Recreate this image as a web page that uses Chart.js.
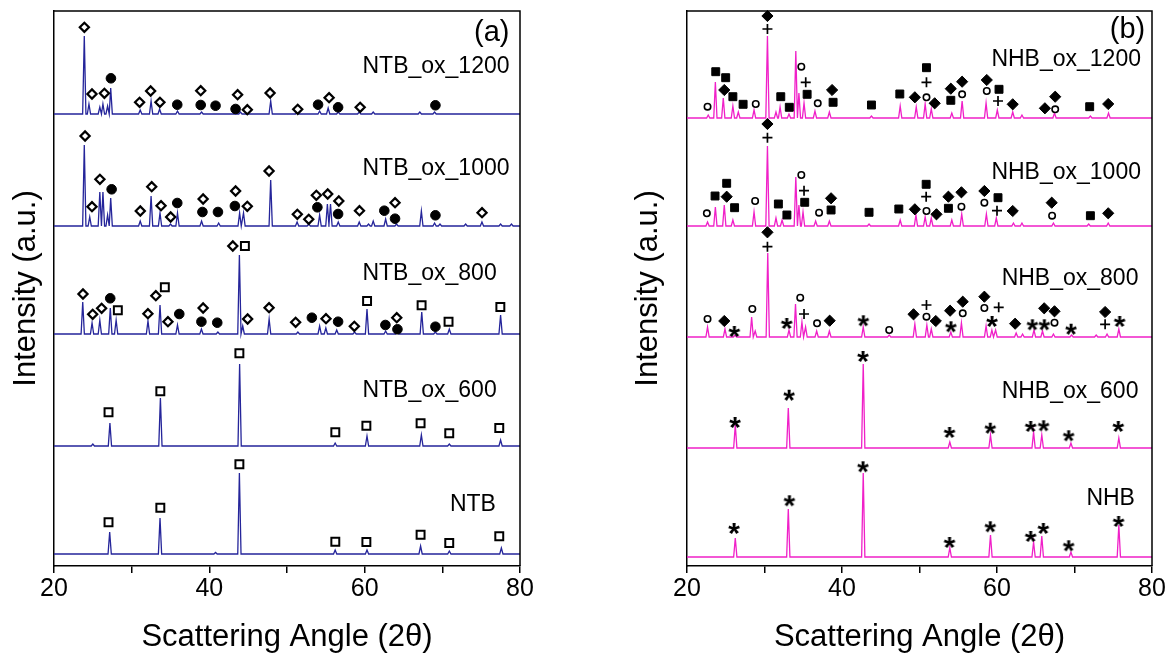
<!DOCTYPE html>
<html>
<head>
<meta charset="utf-8">
<script src="https://cdn.jsdelivr.net/npm/chart.js@4.4.1/dist/chart.umd.min.js"></script>
<style>
  body { margin: 0; background: #fff; }
  canvas { position: absolute; top: 0; }
</style>
</head>
<body>
<canvas id="panelA" width="630" height="653" style="left:0"></canvas>
<canvas id="panelB" width="537" height="653" style="left:630px"></canvas>
<script>
// ---- panel (a): NTB series, baseline offset + peak angle / peak height ----
const ntbBase = 12;
const ntbAngles = [27.17, 33.65, 40.8, 43.87, 56.2, 60.3, 67.2, 70.9, 77.6];
const ntbHeights = [22, 36, 1.5, 81, 4, 4, 8, 3, 6];

const ntb600Base = 120;
const ntb600Angles = [25.0, 27.2, 33.7, 43.9, 56.2, 60.3, 67.3, 70.9, 77.5];
const ntb600Heights = [2, 23, 48, 82, 3, 10, 11, 2, 6];

const ntb800Base = 232;
const ntb800Angles = [23.7, 24.9, 25.9, 27.25, 28.0, 32.1, 33.65, 35.9, 38.98, 41.1, 43.87, 44.3, 47.7, 51.4, 54.2, 55.0, 56.4, 58.7, 60.3, 62.7, 64.2, 67.35, 69.1, 70.9, 77.5];
const ntb800Heights = [32, 11, 14, 26, 14, 13, 29, 9, 5, 2, 79, 8, 15, 2, 8, 6, 4, 2, 25, 3, 2, 22, 2, 5, 19];

const ntb1000Base = 340;
const ntb1000Angles = [23.9, 24.6, 25.9, 26.3, 26.9, 27.3, 31.1, 32.5, 33.65, 35.0, 35.9, 39.0, 41.2, 43.9, 44.4, 47.9, 51.3, 52.8, 54.2, 55.2, 55.6, 56.6, 59.3, 60.5, 61.1, 62.7, 64.1, 67.3, 69.0, 69.7, 73.0, 75.1, 77.5, 78.9];
const ntb1000Heights = [81, 9, 34, 34, 11, 28, 5, 30, 13, 2, 13, 5, 3, 13, 13, 46, 4, 2, 11, 22, 22, 4, 4, 2, 5, 7, 2, 15, 3, 2, 2, 4, 2, 2];

const ntb1200Base = 452;
const ntb1200Angles = [23.9, 24.5, 25.9, 26.3, 26.9, 27.3, 31.1, 32.5, 33.6, 35.9, 39.0, 44.0, 47.9, 51.3, 54.2, 55.3, 56.6, 59.3, 61.1, 67.1, 69.0];
const ntb1200Heights = [78, 10, 7, 10, 8, 26, 4, 13, 5, 3, 2, 2, 13, 2, 3, 6, 2, 2, 2, 2, 2];

// phase markers, panel (a): [angle, intensity]
const aDiamonds = [
  [23.73,272],[24.98,251.7],[26.13,257.7],[32.09,252.3],[33.11,270.3],[34.67,244.3],[39.2,258],[43.02,320],[44.93,247],[47.69,258.3],[51.11,243.7],[55.02,247.3],[58.67,239.7],[64.13,248.3],
  [24.0,430],[24.89,359.3],[25.91,386.7],[31.11,355],[32.58,379.3],[33.78,360.3],[35.02,349],[39.2,367],[43.38,375],[44.89,359.7],[47.69,395],[51.33,351.7],[52.8,346.7],[53.78,370.7],[55.24,372],[56.67,365],[59.33,355.3],[63.91,363.3],[75.11,353.3],
  [23.91,538.7],[24.89,472],[26.49,472.7],[31.02,463.7],[32.44,475],[33.64,463.7],[38.89,475.3],[43.64,471.3],[44.89,456.3],[47.82,473],[51.38,456.7],[55.42,468.3],[59.42,458.7]
];
const aCircles = [
  [27.24,267.7],[36.13,252],[38.98,244.3],[41.02,243.3],[53.2,248.3],[56.58,244.3],[62.67,241],[64.22,236.7],[69.11,239.3],
  [27.42,376.7],[35.87,363],[39.11,354],[41.11,354],[43.29,360],[53.91,358.7],[56.58,352],[62.53,355.3],[63.91,347.3],[69.11,350.7],
  [27.33,487.7],[35.87,461.3],[38.89,461],[40.8,460.3],[43.38,457],[54.0,461.3],[56.58,458.7],[69.11,460.7]
];
const aSquares = [
  [27.02,43.7],[33.69,58.3],[43.87,101.7],[56.22,24.3],[60.22,24],[67.2,31.3],[70.89,23],[77.33,29.7],
  [27.02,153.7],[33.69,174.7],[43.87,212.7],[56.22,133.7],[60.22,140.3],[67.2,142.7],[70.89,132.7],[77.33,138],
  [28.22,255.7],[34.27,278.7],[44.58,320],[60.31,265],[67.33,260.7],[70.8,244.3],[77.47,259]
];

// ---- panel (b): NHB series ----
const nhbBase = 9;
const nhbAngles = [26.23, 33.07, 42.74, 53.91, 59.16, 64.72, 65.78, 69.54, 75.72];
const nhbHeights = [19, 48, 84, 9, 22, 15, 21, 5, 32];

const nhb600Base = 118;
const nhb600Angles = [26.23, 33.07, 42.74, 53.91, 59.16, 64.72, 65.78, 69.54, 75.72];
const nhb600Heights = [23, 40, 84, 6, 13, 16, 13, 5, 10];

const nhb800Base = 229;
const nhb800Angles = [22.65, 24.9, 26.2, 28.34, 28.8, 30.42, 33.16, 34.0, 34.83, 35.3, 36.73, 38.37, 42.74, 46.09, 49.4, 50.95, 51.52, 54.04, 55.41, 58.59, 59.34, 59.82, 62.47, 63.3, 64.77, 65.87, 67.28, 69.62, 72.8, 74.2, 75.72];
const nhb800Heights = [10, 8, 2, 20, 6, 84, 7, 33, 15, 10, 6, 6, 10, 2, 13, 12, 8, 5, 14, 11, 7, 7, 4, 3, 7, 6, 3, 2, 2, 3, 8];

const nhb1000Base = 340;
const nhb1000Angles = [22.65, 23.66, 24.81, 25.92, 28.65, 30.38, 31.48, 32.27, 34.04, 34.44, 34.97, 36.6, 38.37, 43.49, 47.51, 49.54, 50.73, 51.52, 54.17, 55.45, 58.63, 59.91, 62.12, 63.22, 67.28, 71.83, 74.35];
const nhb1000Heights = [4, 19, 21, 6, 14, 80, 8, 6, 49, 21, 14, 5, 5, 2, 6, 11, 9, 8, 6, 12, 12, 8, 3, 3, 3, 2, 3];

const nhb1200Base = 448;
const nhb1200Angles = [22.74, 23.66, 24.68, 25.92, 26.62, 28.65, 30.38, 31.48, 32.01, 33.16, 34.04, 34.44, 35.1, 36.51, 38.37, 43.8, 47.51, 49.58, 50.73, 51.52, 54.17, 55.5, 58.59, 60.04, 62.03, 63.22, 67.42, 72.05, 74.39];
const nhb1200Heights = [3, 36, 20, 12, 6, 8, 82, 6, 11, 4, 67, 25, 15, 7, 6, 2, 12, 11, 14, 9, 5, 17, 15, 8, 6, 3, 5, 2, 5];

const bCircles = [
  [22.65,247],[28.43,257],[34.61,268.3],[36.78,242.7],[46.09,236],[50.9,249.3],[55.58,252.7],[58.37,258],[67.42,243.3],
  [22.56,352.7],[28.79,365],[34.75,391],[37.04,353.3],[50.9,355],[55.41,359.3],[58.37,363.3],[67.11,350.3],
  [22.65,459.3],[28.87,462],[34.75,499.3],[36.87,462.7],[50.9,468.7],[55.5,471.7],[58.68,475],[67.51,456.7]
];
const bSquares = [
  [23.62,370],[25.12,382.7],[26.14,358.3],[31.79,362],[32.89,351],[35.19,363.7],[38.59,356],[43.49,353.7],[47.33,357],[50.86,381.7],[53.73,357.7],[60.13,368.3],[72.05,350.3],
  [23.71,494.3],[24.99,488.3],[25.92,469.3],[27.24,461.7],[32.1,469.3],[33.2,458.7],[35.5,471.7],[38.85,463.7],[43.8,461],[47.46,472],[50.9,498.3],[54.04,465.7],[60.26,476.7],[71.96,459.3]
];
const bDiamonds = [
  [24.81,245],[30.38,333.7],[38.41,245.3],[49.23,251.7],[52.1,245],[53.95,255.3],[55.58,264.3],[58.37,269.3],[62.34,242.3],[66.09,257.7],[67.42,254.7],[73.95,254],
  [25.12,369.3],[30.38,442],[38.59,367.7],[49.4,356.7],[52.19,351.7],[53.73,369.3],[55.41,373.7],[58.37,375],[62.03,355],[67.06,363.3],[74.35,352.7],
  [24.81,476],[30.38,550],[38.72,476],[49.4,468.7],[51.96,462.7],[54.04,477.3],[55.5,484.3],[58.68,486],[62.03,461.7],[66.18,457.7],[67.51,469.3],[74.35,462]
];
const bPluses = [
  [30.38,319.3],[35.1,252],[50.9,261],[60.22,258.7],[73.95,241.7],
  [30.38,428.3],[35.1,375.3],[50.86,369.3],[60.0,355.3],
  [30.38,537],[35.32,483.7],[50.9,483.7],[60.13,465]
];
const bStars = [
  [26.05,40],[33.2,67.7],[42.69,101.7],[53.86,26],[59.12,41.7],[64.33,32],[65.96,40],[69.23,22.7],[75.67,47],
  [26.18,146],[33.16,173.3],[42.69,212],[53.86,136],[59.12,140.3],[64.33,142],[66.0,142.7],[69.23,132.7],[75.63,142],
  [26.09,237],[32.85,245],[42.74,247.7],[54.04,241.7],[59.34,247],[64.55,243.7],[66.09,243.7],[69.54,239.3],[75.81,247]
];

const aLabels = [['(a)', 78.65, 533, 29], ['NTB_ox_1200', 78.65, 499, 23], ['NTB_ox_1000', 78.65, 397, 23],
  ['NTB_ox_800', 77.0, 292, 23], ['NTB_ox_600', 77.0, 175, 23], ['NTB', 76.9, 61, 23]];
const bLabels = [['(b)', 79.12, 536, 29], ['NHB_ox_1200', 78.58, 506, 23], ['NHB_ox_1000', 78.58, 393.7, 23],
  ['NHB_ox_800', 78.25, 287.7, 23], ['NHB_ox_600', 78.25, 174.3, 23], ['NHB', 77.8, 67.7, 23]];

Chart.defaults.font.family = "'Liberation Sans', Arial, sans-serif";
Chart.defaults.color = '#000';

const PEAK_HALF = 0.21;

// each peak is a narrow spike on the pattern's baseline
function pattern(base, angles, heights) {
  const pts = [{ x: 20, y: base }];
  angles.forEach((a, i) => {
    pts.push({ x: a - PEAK_HALF, y: base }, { x: a, y: base + heights[i] }, { x: a + PEAK_HALF, y: base });
  });
  pts.push({ x: 80, y: base });
  return pts;
}

function line(pts, color) {
  return { type: 'line', data: pts, borderColor: color, borderWidth: 1.3, pointRadius: 0, tension: 0, fill: false };
}

function marks(list, style) {
  return Object.assign({ type: 'scatter', data: list.map(p => ({ x: p[0], y: p[1] })), showLine: false, clip: false,
    borderColor: '#000', pointHoverRadius: 0 }, style);
}

function starImage() {
  const c = document.createElement('canvas');
  c.width = 32; c.height = 32;
  const g = c.getContext('2d');
  g.font = "bold 30px 'Liberation Sans', Arial";
  g.textAlign = 'center';
  g.textBaseline = 'alphabetic';
  g.fillStyle = '#000';
  g.fillText('*', 16, 16 + 0.58 * 30);
  return c;
}

const framePlugin = {
  id: 'frame',
  afterDraw(chart, args, opts) {
    const { ctx, chartArea: a, scales } = chart;
    ctx.save();
    ctx.strokeStyle = '#000';
    ctx.lineWidth = 1.5;
    ctx.beginPath();
    ctx.moveTo(a.left, a.top);
    ctx.lineTo(a.right, a.top);
    ctx.lineTo(a.right, a.bottom);
    ctx.stroke();
    ctx.fillStyle = '#000';
    ctx.textAlign = 'right';
    ctx.textBaseline = 'middle';
    (opts.labels || []).forEach(([t, x, y, size]) => {
      ctx.font = size + "px 'Liberation Sans', Arial";
      ctx.fillText(t, scales.x.getPixelForValue(x), scales.y.getPixelForValue(y));
    });
    ctx.restore();
  }
};

function panelOptions(o) {
  return {
    responsive: false,
    animation: false,
    devicePixelRatio: 1,
    layout: { padding: { left: 0, right: o.padRight, top: 11, bottom: 0 } },
    plugins: { legend: { display: false }, tooltip: { enabled: false }, frame: { labels: o.labels } },
    scales: {
      x: {
        type: 'linear', min: 20, max: 80,
        afterFit: s => { s.height = 87; },
        ticks: { stepSize: 10, padding: 1, autoSkip: false, maxRotation: 0, color: '#000', font: { size: 25 },
          callback: v => (v % 20 === 0 ? v : '') },
        grid: { drawOnChartArea: false, drawTicks: true, tickLength: 7, color: '#000', lineWidth: 1.5 },
        border: { color: '#000', width: 1.5 },
        title: { display: true, text: 'Scattering Angle (2θ)', color: '#000', font: { size: 31, lineHeight: 1 }, padding: 0 }
      },
      y: {
        min: 0, max: 555,
        afterFit: s => { s.width = o.yWidth; },
        ticks: { display: false },
        grid: { display: false },
        border: { color: '#000', width: 1.5 },
        title: { display: true, text: 'Intensity (a.u.)', color: '#000', font: { size: 31 }, padding: { top: o.titlePad, bottom: 0 } }
      }
    }
  };
}

const navy = '#25259a';
const pink = '#f020c8';

new Chart(document.getElementById('panelA'), {
  type: 'scatter',
  data: {
    datasets: [
      marks(aDiamonds, { pointStyle: 'rectRot', pointRadius: 4.6, borderWidth: 2.2, backgroundColor: '#fff' }),
      marks(aCircles, { pointStyle: 'circle', pointRadius: 4.8, borderWidth: 1, backgroundColor: '#000' }),
      marks(aSquares, { pointStyle: 'rect', pointRadius: 5.6, borderWidth: 2, backgroundColor: '#fff' }),
      line(pattern(ntbBase, ntbAngles, ntbHeights), navy),
      line(pattern(ntb600Base, ntb600Angles, ntb600Heights), navy),
      line(pattern(ntb800Base, ntb800Angles, ntb800Heights), navy),
      line(pattern(ntb1000Base, ntb1000Angles, ntb1000Heights), navy),
      line(pattern(ntb1200Base, ntb1200Angles, ntb1200Heights), navy)
    ]
  },
  options: panelOptions({ padRight: 110, yWidth: 54, titlePad: 8, labels: aLabels }),
  plugins: [framePlugin]
});

new Chart(document.getElementById('panelB'), {
  type: 'scatter',
  data: {
    datasets: [
      marks(bCircles, { pointStyle: 'circle', pointRadius: 3.2, borderWidth: 1.6, backgroundColor: '#fff' }),
      marks(bSquares, { pointStyle: 'rect', pointRadius: 5.6, borderWidth: 1, backgroundColor: '#000' }),
      marks(bDiamonds, { pointStyle: 'rectRot', pointRadius: 5.6, borderWidth: 1, backgroundColor: '#000' }),
      marks(bPluses, { pointStyle: 'cross', pointRadius: 5, borderWidth: 1.7, backgroundColor: '#000' }),
      marks(bStars, { pointStyle: starImage(), pointRadius: 6 }),
      line(pattern(nhbBase, nhbAngles, nhbHeights), pink),
      line(pattern(nhb600Base, nhb600Angles, nhb600Heights), pink),
      line(pattern(nhb800Base, nhb800Angles, nhb800Heights), pink),
      line(pattern(nhb1000Base, nhb1000Angles, nhb1000Heights), pink),
      line(pattern(nhb1200Base, nhb1200Angles, nhb1200Heights), pink)
    ]
  },
  options: panelOptions({ padRight: 15, yWidth: 57, titlePad: 0, labels: bLabels }),
  plugins: [framePlugin]
});
</script>
</body>
</html>
